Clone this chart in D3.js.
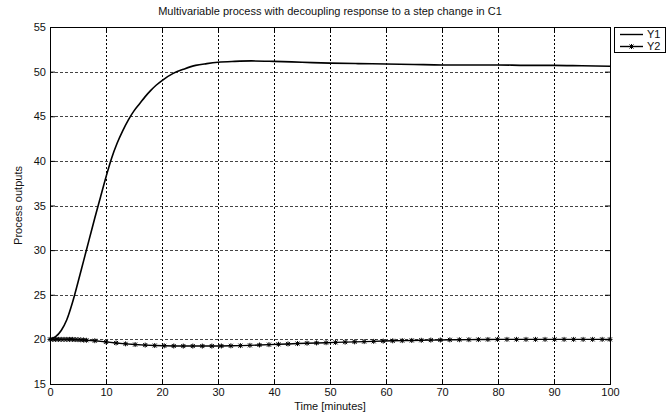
<!DOCTYPE html>
<html>
<head>
<meta charset="utf-8">
<script src="https://cdn.jsdelivr.net/npm/d3@7"></script>
<style>
  body { margin: 0; background: #fff; }
  text { font-family: "Liberation Sans", Arial, sans-serif; }
</style>
</head>
<body>
<div id="chart"></div>
<script>
// values
var xTicks = [0, 10, 20, 30, 40, 50, 60, 70, 80, 90, 100];
var yTicks = [15, 20, 25, 30, 35, 40, 45, 50, 55];

var y1Time = [0, 1, 2, 3, 4, 5, 6, 7, 8, 9, 10, 11, 12, 13, 14, 15, 16, 17, 18, 19, 20,
  22, 24, 26, 28, 30, 33, 36, 40, 45, 50, 55, 60, 65, 70, 75, 80, 85, 90, 95, 100];
var y1Values = [20, 20.3, 21.0, 22.2, 24.1, 26.4, 28.8, 31.2, 33.6, 35.9, 38.2, 40.3, 42.0,
  43.4, 44.6, 45.6, 46.4, 47.2, 47.9, 48.5, 49.0, 49.8, 50.3, 50.7, 50.9, 51.05, 51.15,
  51.2, 51.15, 51.05, 50.95, 50.9, 50.85, 50.8, 50.75, 50.75, 50.75, 50.7, 50.7, 50.65, 50.6];

var y2Time = [0, 0.5, 1, 1.5, 2, 2.5, 3, 3.5, 4, 4.5, 5, 5.5, 6, 6.5,
  8, 10, 11.8, 13.5, 15.2, 17, 18.7, 20.4, 22.1, 23.8, 25.5, 27.2, 28.9, 30.6, 32.3, 34,
  35.7, 37.4, 39.1, 40.8, 42.5, 44.2, 45.9, 47.6, 49.3, 51, 52.7, 54.4, 56.1, 57.8, 59.5,
  61.2, 62.9, 64.6, 66.3, 68, 69.7, 71.4, 73.1, 74.8, 76.5, 78.2, 79.9, 81.6, 83.3, 85,
  86.7, 88.4, 90.1, 91.8, 93.5, 95.2, 96.9, 98.6, 100];
var y2Values = [20, 20, 20, 20, 20, 20, 20, 20, 20, 19.98, 19.97, 19.95, 19.93, 19.9,
  19.85, 19.72, 19.6, 19.5, 19.42, 19.36, 19.31, 19.28, 19.26, 19.25, 19.25, 19.25, 19.25,
  19.26, 19.28, 19.3, 19.33, 19.37, 19.41, 19.45, 19.49, 19.53, 19.57, 19.6, 19.63, 19.66,
  19.69, 19.72, 19.75, 19.78, 19.81, 19.84, 19.86, 19.88, 19.9, 19.92, 19.93, 19.95, 19.96,
  19.97, 19.98, 19.99, 20, 20, 20, 20, 20, 20, 20, 20, 20, 20, 20, 20, 20];

var seriesNames = ["Y1", "Y2"];

var svg = d3.select("#chart")
  .append("svg")
  .attr("width", 667)
  .attr("height", 413);

var margin = {top: 27, right: 57, bottom: 29, left: 50},
    width = +svg.attr("width"),
    height = +svg.attr("height");

var x = d3.scaleLinear()
    .domain([0, 100])
    .range([margin.left, width - margin.right]);

var y = d3.scaleLinear()
    .domain([15, 55])
    .range([height - margin.bottom, margin.top]);

// grid
var grid = svg.append("g").attr("class", "grid");
grid.selectAll("line.gx")
  .data(xTicks.slice(1, -1))
  .enter().append("line")
    .attr("class", "gx")
    .attr("x1", function(d) { return Math.round(x(d)) + 0.5; })
    .attr("x2", function(d) { return Math.round(x(d)) + 0.5; })
    .attr("y1", y(55))
    .attr("y2", y(15))
    .attr("stroke", "#000")
    .attr("stroke-dasharray", "2,2");
grid.selectAll("line.gy")
  .data(yTicks.slice(1, -1))
  .enter().append("line")
    .attr("class", "gy")
    .attr("x1", x(0))
    .attr("x2", x(100))
    .attr("y1", function(d) { return Math.round(y(d)) + 0.5; })
    .attr("y2", function(d) { return Math.round(y(d)) + 0.5; })
    .attr("stroke", "#444")
    .attr("stroke-dasharray", "3,2");

// axes, ticks inward like matlab
svg.append("g")
    .attr("class", "axis axis--x")
    .attr("transform", "translate(0," + y(15) + ")")
    .call(d3.axisBottom(x).tickValues(xTicks).tickSize(-5).tickPadding(4))
    .call(function(g) { g.select(".domain").remove(); });

svg.append("g")
    .attr("class", "axis axis--y")
    .attr("transform", "translate(" + x(0) + ",0)")
    .call(d3.axisLeft(y).tickValues(yTicks).tickSize(-5).tickPadding(4))
    .call(function(g) { g.select(".domain").remove(); });

svg.append("g")
    .attr("transform", "translate(" + x(100) + ",0)")
    .call(d3.axisRight(y).tickValues(yTicks).tickSize(-5).tickFormat(""))
    .call(function(g) { g.select(".domain").remove(); });

svg.append("g")
    .attr("transform", "translate(0," + y(55) + ")")
    .call(d3.axisTop(x).tickValues(xTicks).tickSize(-5).tickFormat(""))
    .call(function(g) { g.select(".domain").remove(); });

svg.selectAll(".axis text")
    .attr("font-size", 11)
    .attr("font-family", "Liberation Sans, Arial, sans-serif")
    .attr("fill", "#111");

svg.append("rect")
    .attr("x", x(0) + 0.5)
    .attr("y", y(55) + 0.5)
    .attr("width", x(100) - x(0))
    .attr("height", y(15) - y(55))
    .attr("fill", "none")
    .attr("stroke", "#000");

// series
var line = d3.line()
    .x(function(d) { return x(d[0]); })
    .y(function(d) { return y(d[1]); });

var y1Data = d3.zip(y1Time, y1Values),
    y2Data = d3.zip(y2Time, y2Values);

svg.append("path")
    .datum(y1Data)
    .attr("fill", "none")
    .attr("stroke", "#000")
    .attr("stroke-width", 1.6)
    .attr("d", line.curve(d3.curveMonotoneX));

svg.append("path")
    .datum(y2Data)
    .attr("fill", "none")
    .attr("stroke", "#000")
    .attr("stroke-width", 1.4)
    .attr("d", line.curve(d3.curveLinear));

var star = "M-2,-2L2,2M-2,2L2,-2M0,-2.5L0,2.5M-2.5,0L2.5,0";

svg.append("g")
  .selectAll("path")
  .data(y2Data)
  .enter().append("path")
    .attr("transform", function(d) { return "translate(" + x(d[0]) + "," + y(d[1]) + ")"; })
    .attr("d", star)
    .attr("stroke", "#000")
    .attr("stroke-width", 1)
    .attr("fill", "none");

// labels
svg.append("text")
    .attr("x", (x(0) + x(100)) / 2)
    .attr("y", 15)
    .attr("text-anchor", "middle")
    .attr("font-size", 11)
    .attr("fill", "#111")
    .text("Multivariable process with decoupling response to a step change in C1");

svg.append("text")
    .attr("x", (x(0) + x(100)) / 2)
    .attr("y", 410)
    .attr("text-anchor", "middle")
    .attr("font-size", 11)
    .attr("fill", "#111")
    .text("Time [minutes]");

svg.append("text")
    .attr("transform", "translate(22," + (y(15) + y(55)) / 2 + ") rotate(-90)")
    .attr("text-anchor", "middle")
    .attr("font-size", 11)
    .attr("fill", "#111")
    .text("Process outputs");

// legend
var legend = svg.append("g").attr("transform", "translate(614,27)");
legend.append("rect")
    .attr("x", 0.5)
    .attr("y", 0.5)
    .attr("width", 51)
    .attr("height", 25)
    .attr("fill", "#fff")
    .attr("stroke", "#000");

var item = legend.selectAll("g.item")
  .data(seriesNames)
  .enter().append("g")
    .attr("class", "item")
    .attr("transform", function(d, i) { return "translate(0," + (7 + i * 12) + ")"; });

item.append("line")
    .attr("x1", 6)
    .attr("x2", 29)
    .attr("y1", 0.5)
    .attr("y2", 0.5)
    .attr("stroke", "#000")
    .attr("stroke-width", 1.4);

item.filter(function(d) { return d === "Y2"; })
  .append("path")
    .attr("transform", "translate(17.5,0.5)")
    .attr("d", star)
    .attr("stroke", "#000")
    .attr("fill", "none");

item.append("text")
    .attr("x", 33)
    .attr("y", 4)
    .attr("font-size", 11)
    .attr("fill", "#111")
    .text(function(d) { return d; });
</script>
</body>
</html>
